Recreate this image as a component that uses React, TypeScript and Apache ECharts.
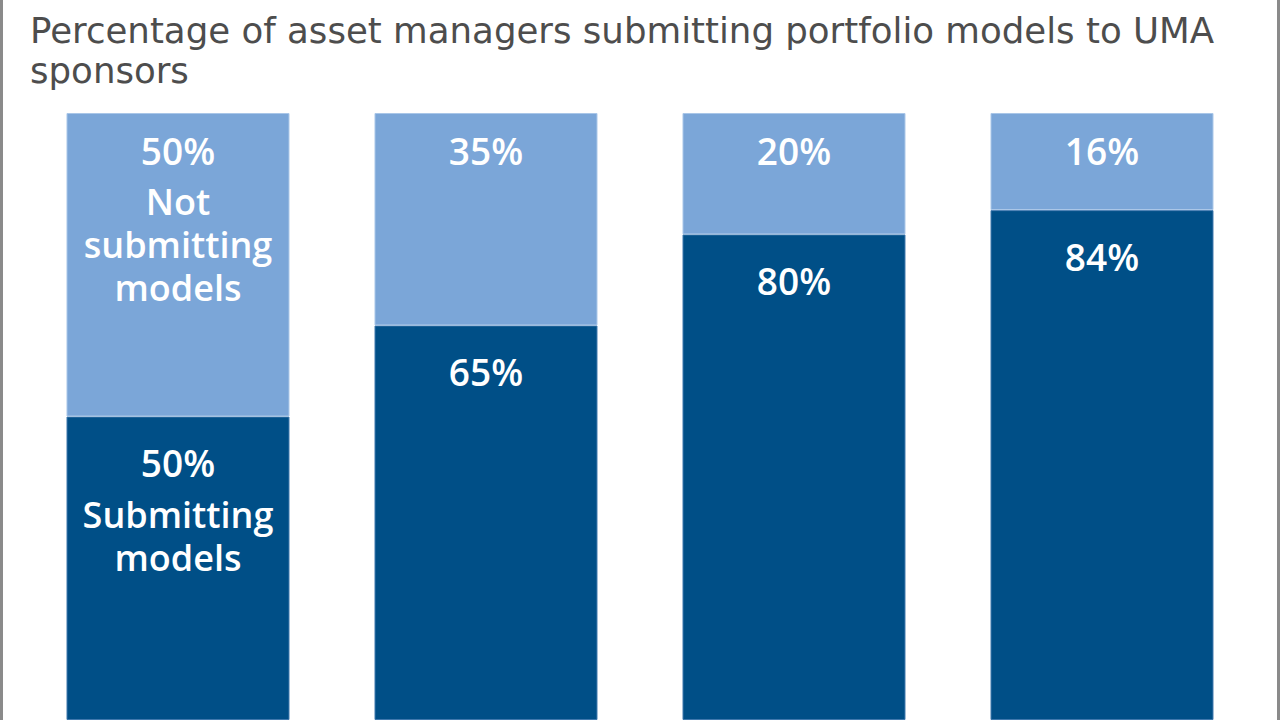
import React, { useEffect, useRef } from "react";
import * as echarts from "echarts";

const categories = ["Group 1", "Group 2", "Group 3", "Group 4"];
const submitting = [50, 65, 80, 84];
const notSubmitting = [50, 35, 20, 16];
const titleText = "Percentage of asset managers submitting portfolio models to UMA\nsponsors";
const darkLabelExtra = ["Submitting\nmodels", "", "", ""];
const lightLabelExtra = ["Not\nsubmitting\nmodels", "", "", ""];

export default function App() {
  const ref = useRef<HTMLDivElement>(null);
  useEffect(() => {
    if (!ref.current) return;
    const chart = echarts.init(ref.current, undefined, { renderer: "svg" });
    const labelFont = "'Open Sans', 'Noto Sans', sans-serif";
    const mkLabel = (extra: string[], distance: number) => ({
      show: true,
      position: "insideTop" as const,
      distance,
      formatter: (p: any) => {
        const e = extra[p.dataIndex];
        const pct = `{p|${p.value}%}`;
        if (!e) return pct;
        return pct + "\n" + e.split("\n").map((s) => `{t|${s}}`).join("\n");
      },
      rich: {
        p: { fontSize: 37, fontWeight: 600, color: "#ffffff", fontFamily: labelFont, lineHeight: 60 },
        t: { fontSize: 36, fontWeight: 600, color: "#ffffff", fontFamily: labelFont, lineHeight: 43 },
      },
    });
    chart.setOption({
      animation: false,
      backgroundColor: "#ffffff",
      title: {
        text: titleText,
        left: 25,
        top: 5,
        textStyle: {
          fontFamily: "'DejaVu Sans', sans-serif",
          fontWeight: "normal",
          fontSize: 35.6,
          lineHeight: 40,
          color: "#4d4d4d",
        },
      },
      grid: { left: 24, right: 24, top: 113, bottom: -5 },
      xAxis: {
        type: "category",
        data: categories,
        show: false,
      },
      yAxis: { type: "value", min: 0, max: 100, show: false },
      series: [
        {
          type: "bar",
          stack: "a",
          data: submitting,
          barCategoryGap: "27.6%",
          itemStyle: { color: "#004f87", borderColor: "#3f78ad", borderWidth: 1 },
          label: mkLabel(darkLabelExtra, 16),
        },
        {
          type: "bar",
          stack: "a",
          data: notSubmitting,
          barCategoryGap: "27.6%",
          itemStyle: { color: "#7ba6d8", borderColor: "#a9c6e8", borderWidth: 1 },
          label: mkLabel(lightLabelExtra, 7),
        },
      ],
      graphic: [
        { type: "rect", left: 0, top: 0, shape: { width: 3, height: 720 }, style: { fill: "#8a8a8a" } },
        { type: "rect", left: 1277, top: 0, shape: { width: 3, height: 720 }, style: { fill: "#8a8a8a" } },
      ],
    });
    return () => chart.dispose();
  }, []);
  return (
    <div
      ref={ref}
      style={{ position: "absolute", left: 0, top: 0, width: 1280, height: 720 }}
    />
  );
}
